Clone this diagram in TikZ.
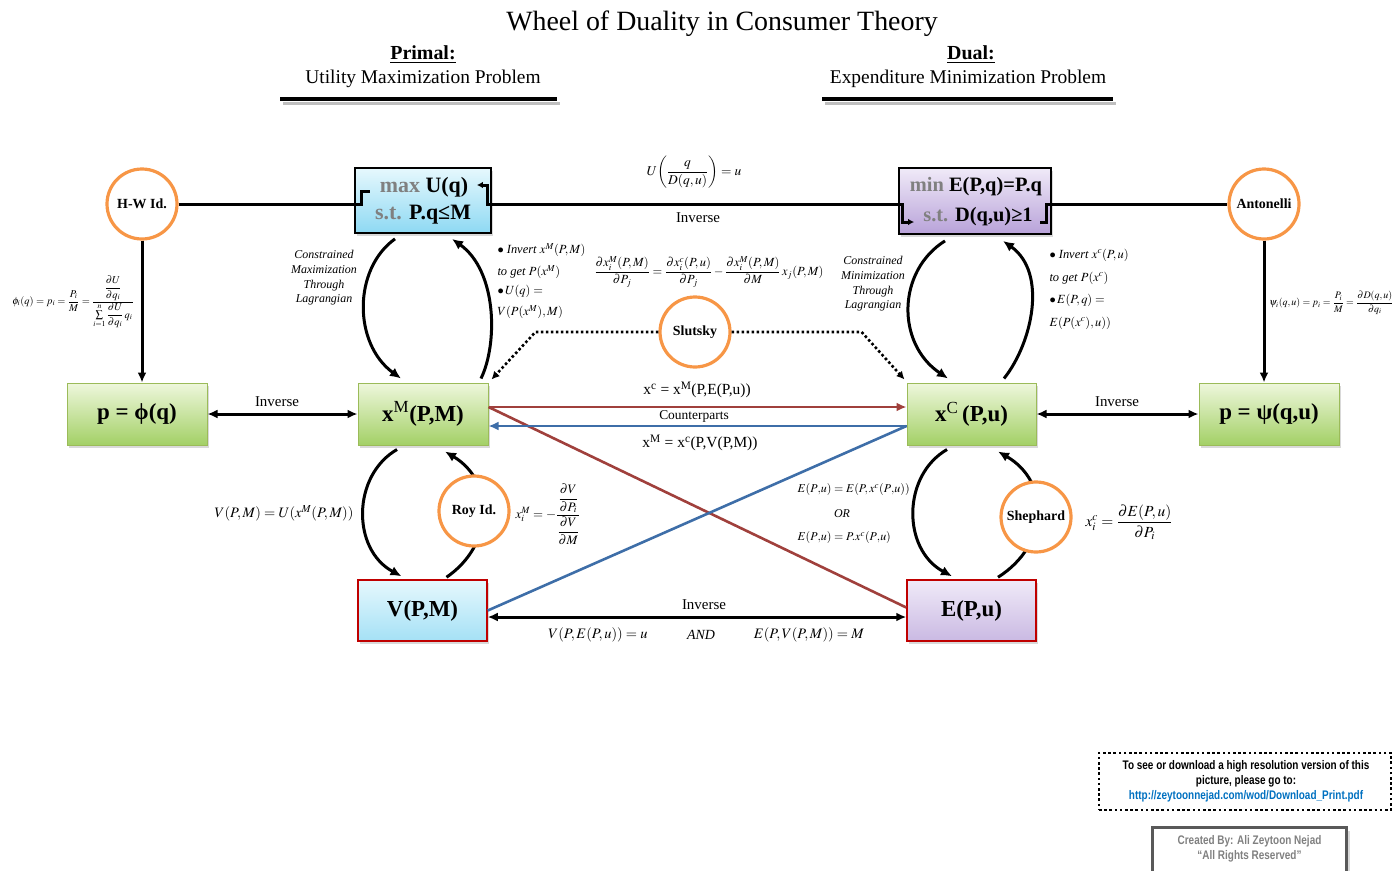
\documentclass[tikz,border=0pt]{standalone}
\usepackage{amsmath}
\usepackage{mathptmx}
\usepackage{fontspec}
\setmainfont{Liberation Serif}
\newfontfamily\condsans[FakeStretch=0.8]{Liberation Sans}
\usetikzlibrary{arrows.meta,shadows}

\definecolor{ring}{HTML}{F79646}
\definecolor{cyanTop}{HTML}{E6F8FD}
\definecolor{cyanBot}{HTML}{8ED9F3}
\definecolor{lavTop}{HTML}{F0EAF8}
\definecolor{lavBot}{HTML}{B8A2D9}
\definecolor{grnTop}{HTML}{EEF7DC}
\definecolor{grnBot}{HTML}{A3D066}
\definecolor{grnEdge}{HTML}{9BBB59}
\definecolor{boxRed}{HTML}{C00000}
\definecolor{linkRed}{HTML}{A0403C}
\definecolor{linkBlue}{HTML}{3E6EA8}
\definecolor{subGray}{HTML}{808080}
\definecolor{urlBlue}{HTML}{0070C0}
\definecolor{creditGray}{HTML}{595959}

\newcommand{\fs}[2]{\fontsize{#1}{#2}\selectfont}

\tikzset{
  hub/.style={circle, draw=ring, line width=3.2bp, fill=white, minimum size=70bp,
    inner sep=0pt, font=\bfseries\fs{14}{16}},
  panel/.style={rectangle, inner sep=0pt,
    drop shadow={opacity=0.3, shadow xshift=2bp, shadow yshift=-2.5bp}},
  optbox/.style={panel, draw=black, line width=1.8bp},
  funcbox/.style={panel, draw=grnEdge, line width=1bp, top color=grnTop,
    bottom color=grnBot, minimum width=130bp, minimum height=62bp,
    font=\bfseries\fs{23}{27}},
  valbox/.style={panel, draw=boxRed, line width=1.5bp, minimum width=129bp,
    minimum height=61bp, font=\bfseries\fs{23}{27}},
  wire/.style={line width=3bp, black},
  arrowend/.style={-{Latex[length=10bp,width=9bp]}},
  bothends/.style={{Latex[length=10bp,width=9bp]}-{Latex[length=10bp,width=9bp]}},
  smallend/.style={-{Latex[length=6bp,width=6.5bp]}},
  cycarc/.style={line width=3bp, -{Latex[length=11bp,width=10bp]}},
  dotwire/.style={line width=2.6bp, dash pattern=on 2.6bp off 2.4bp,
    -{Latex[length=8bp,width=8bp]}},
  redwire/.style={line width=2.6bp, linkRed},
  bluewire/.style={line width=2.6bp, linkBlue},
  lbl/.style={font=\fs{15}{17}},
  note/.style={font=\itshape\fs{12}{14.7}, align=center},
  mathlbl/.style={font=\fs{14.5}{16}},
  sidenote/.style={font=\fs{12.5}{14}, anchor=west},
}

\begin{document}
\begin{tikzpicture}[x=1bp, y=-1bp]
\useasboundingbox (0,0) rectangle (1398,870);

% ---------- headings ----------
\node[font=\fs{28}{31}] (title) at (722,24) {Wheel of Duality in Consumer Theory};
\node[font=\bfseries\fs{20}{24}] (primal) at (423,55) {\underline{Primal:}};
\node[font=\fs{19.5}{22}] (ump) at (423,79) {Utility Maximization Problem};
\node[font=\bfseries\fs{20}{24}] (dual) at (971,55) {\underline{Dual:}};
\node[font=\fs{19.5}{22}] (emp) at (968,79) {Expenditure Minimization Problem};
\draw[black!25, line width=3bp] (283,103) -- (560,103);
\draw[line width=3.5bp] (280,99) -- (557,99);
\draw[black!25, line width=3bp] (825,103) -- (1116,103);
\draw[line width=3.5bp] (822,99) -- (1113,99);

% ---------- optimisation problems ----------
\node[optbox, top color=cyanTop, bottom color=cyanBot,
      minimum width=136bp, minimum height=65bp] (umax) at (423,200.5) {};
\node[font=\bfseries\fs{22}{26}] (umaxA) at (424,187) {\textcolor{subGray}{max} U(q)};
\node[font=\bfseries\fs{22}{26}] (umaxB) at (423,215) {\textcolor{subGray}{s.t.} P.q≤M};

\node[optbox, top color=lavTop, bottom color=lavBot,
      minimum width=152bp, minimum height=66bp] (emin) at (975,201) {};
\node[font=\bfseries\fs{20.5}{24}] (eminA) at (976,187) {\textcolor{subGray}{min} E(P,q)=P.q};
\node[font=\bfseries\fs{20.5}{24}] (eminB) at (978,217) {\textcolor{subGray}{s.t.} D(q,u)≥1};

% ---------- identities ----------
\node[hub] (hw) at (142,204) {H-W Id.};
\node[hub] (anton) at (1264,204) {Antonelli};

% ---------- demand and value functions ----------
\node[funcbox, minimum width=140bp] (phi) at (137,414) {p = ϕ(q)};
\node[funcbox] (xm) at (423,414) {x\textsuperscript{\mdseries M}(P,M)};
\node[funcbox, minimum width=129bp] (xc) at (971.5,414) {x\textsuperscript{\mdseries C}\,(P,u)};
\node[funcbox, minimum width=140bp] (psi) at (1269,414) {p = ψ(q,u)};
\node[valbox, top color=cyanTop, bottom color=cyanBot!80] (vm) at (422.5,610.5) {V(P,M)};
\node[valbox, top color=lavTop, bottom color=lavBot!75] (em) at (971.5,610.5) {E(P,u)};

% ---------- top duality line ----------
\draw[wire] (hw.east) -- (hw.east -| umax.west) -- ++(7,0) |- ++(9,-13);
\draw[wire, smallend] (umax.east |- hw.east) -- ++(-4,0) |- ++(-11,-19);
\draw[wire] (umax.east |- hw.east) -- (emin.west |- hw.east);
\draw[wire, smallend] (emin.west |- hw.east) -- ++(4,0) |- ++(12,18);
\draw[wire] (emin.east |- hw.east) -- ++(-5,0) |- ++(-7,18);
\draw[wire] (emin.east |- hw.east) -- (anton.west);
\node[font=\fs{13.5}{15}] (dualid) at (694,172) {$U\!\left(\dfrac{q}{D(q,u)}\right)=u$};
\node[lbl] (invtop) at (698,218) {Inverse};

% ---------- inverse demand ----------
\draw[wire, arrowend] (hw.south) -- (hw.south |- phi.north);
\draw[wire, arrowend] (anton.south) -- (anton.south |- psi.north);
\node[font=\fs{10.5}{12}] (hwform) at (73,302)
  {$\phi_i(q)=p_i=\dfrac{P_i}{M}=\dfrac{\dfrac{\partial U}{\partial q_i}}{\sum\limits_{i=1}^{n}\dfrac{\partial U}{\partial q_i}\,q_i}$};
\node[font=\fs{10}{12}, anchor=east] (antform) at (1397,303)
  {$\psi_i(q,u)=p_i=\dfrac{P_i}{M}=\dfrac{\partial D(q,u)}{\partial q_i}$};

\draw[wire, bothends] (phi.east) -- (xm.west);
\node[lbl] (invl) at (277,402) {Inverse};
\draw[wire, bothends] (xc.east) -- (psi.west);
\node[lbl] (invr) at (1117,402) {Inverse};

% ---------- primal wheel ----------
\draw[cycarc] ([xshift=-28bp,yshift=-5bp]umax.south)
  .. controls +(-42,30) and +(-48,-35) .. ([xshift=-22bp,yshift=4bp]xm.north);
\draw[cycarc] ([xshift=58bp,yshift=4bp]xm.north)
  .. controls +(17,-35) and +(45,32) .. ([xshift=29bp,yshift=-5bp]umax.south);
\draw[cycarc] ([xshift=-26bp,yshift=-4bp]xm.south)
  .. controls +(-45,26) and +(-50,-27) .. ([xshift=-21bp,yshift=3bp]vm.north);
\draw[cycarc] ([xshift=24bp,yshift=2bp]vm.north)
  .. controls +(48,-33) and +(50,30) .. ([xshift=22bp,yshift=-6bp]xm.south);
\node[hub] (roy) at (474,511) {Roy Id.};

\node[note] (cmax) at (324,278) {Constrained\\Maximization\\Through\\Lagrangian};
\node[sidenote] (invA) at (494,250) {$\bullet$ \textit{Invert} $x^{M}(P,M)$};
\node[sidenote] (invB) at (494,272) {\textit{to get} $P(x^{M})$};
\node[sidenote] (invC) at (494,291) {$\bullet\, U(q)=$};
\node[sidenote] (invD) at (494,312) {$V(P(x^{M}),M)$};

\node[mathlbl] (vdef) at (284,513) {$V(P,M)=U(x^{M}(P,M))$};
\node[font=\fs{13}{15}] (royform) at (548,514) {$x_i^{M}=-\dfrac{\dfrac{\partial V}{\partial P_i}}{\dfrac{\partial V}{\partial M}}$};

% ---------- dual wheel ----------
\draw[cycarc] ([xshift=-30bp,yshift=-6bp]emin.south)
  .. controls +(-48,30) and +(-52,-35) .. ([xshift=-23.5bp,yshift=4bp]xc.north);
\draw[cycarc] ([xshift=32.5bp,yshift=4bp]xc.north)
  .. controls +(28,-35) and +(45,32) .. ([xshift=28bp,yshift=-6bp]emin.south);
\draw[cycarc] ([xshift=-24.5bp,yshift=-4bp]xc.south)
  .. controls +(-45,26) and +(-50,-27) .. ([xshift=-19.5bp,yshift=3bp]em.north);
\draw[cycarc] ([xshift=26.5bp,yshift=2bp]em.north)
  .. controls +(52,-33) and +(52,30) .. ([xshift=26.5bp,yshift=-6bp]xc.south);
\node[hub] (shep) at (1036,517) {Shephard};

\node[note] (cmin) at (873,284) {Constrained\\Minimization\\Through\\Lagrangian};
\node[sidenote] (hinvA) at (1046,255) {$\bullet$ \textit{Invert} $x^{c}(P,u)$};
\node[sidenote] (hinvB) at (1046,278) {\textit{to get} $P(x^{c})$};
\node[sidenote] (hinvC) at (1046,300) {$\bullet\, E(P,q)=$};
\node[sidenote] (hinvD) at (1046,323) {$E(P(x^{c}),u))$};

\node[font=\fs{12}{14}, anchor=west] (edefA) at (794,490) {$E(P{,}u)=E(P,x^{c}(P{,}u))$};
\node[font=\itshape\fs{12}{14}] (edefB) at (842,514) {OR};
\node[font=\fs{12}{14}, anchor=west] (edefC) at (794,538) {$E(P{,}u)=P.x^{c}(P{,}u)$};
\node[font=\fs{15.5}{17}] (shepform) at (1129,522) {$x_i^{c}=\dfrac{\partial E(P,u)}{\partial P_i}$};

% ---------- Slutsky ----------
\node[font=\fs{12.5}{14}] (slform) at (709,272)
  {$\dfrac{\partial x_i^{M}(P,M)}{\partial P_j}=\dfrac{\partial x_i^{c}(P,u)}{\partial P_j}-\dfrac{\partial x_i^{M}(P,M)}{\partial M}\,x_j(P,M)$};
\node[hub] (slutsky) at (695,332) {Slutsky};
\draw[dotwire] (slutsky.west) -- ++(-123,0) -- ([xshift=3bp,yshift=3bp]xm.north east);
\draw[dotwire] (slutsky.east) -- ++(130,0) -- ([xshift=-2bp,yshift=3bp]xc.north west);

% ---------- counterparts ----------
\draw[redwire, arrowend] ([yshift=7bp]xm.east) -- ([yshift=7bp]xc.west);
\draw[redwire] ([yshift=7bp]xm.east) -- ([yshift=3bp]em.west);
\draw[bluewire, arrowend] ([yshift=-12bp]xc.west) -- ([yshift=-12bp]xm.east);
\draw[bluewire] ([yshift=-12bp]xc.west) -- (vm.east);
\node[font=\fs{15.5}{17}] (cpA) at (697,390) {x\textsuperscript{c} = x\textsuperscript{M}(P,E(P,u))};
\node[font=\fs{13.5}{15}] (cpB) at (694,416) {Counterparts};
\node[font=\fs{15.5}{17}] (cpC) at (700,443) {x\textsuperscript{M} = x\textsuperscript{c}(P,V(P,M))};

% ---------- value / expenditure inverse ----------
\draw[wire, bothends] ([yshift=-6.5bp]vm.east) -- ([yshift=-6.5bp]em.west);
\node[lbl] (invb) at (704,605) {Inverse};
\node[mathlbl] (veq) at (598,635) {$V(P,E(P,u))=u$};
\node[font=\itshape\fs{14}{16}] (andw) at (701,635) {AND};
\node[mathlbl] (eeq) at (809,635) {$E(P,V(P,M))=M$};

% ---------- footer ----------
\node[draw, line width=2.6bp, dash pattern=on 2.6bp off 2.6bp,
      minimum width=292bp, minimum height=57bp] (dlbox) at (1245,781.5) {};
\node[font=\condsans\bfseries\fs{12.5}{15}, align=center] (dltext) at (1246,781)
  {To see or download a high resolution version of this\\picture, please go to:\\
   \textcolor{urlBlue}{http://zeytoonnejad.com/wod/Download\_Print.pdf}};
\node[draw=creditGray, line width=3bp, fill=white, minimum width=194bp,
      minimum height=64bp, anchor=north,
      drop shadow={opacity=0.3, shadow xshift=3bp, shadow yshift=-3bp}] (credit) at (1249.5,826) {};
\node[font=\condsans\bfseries\fs{12.5}{15}, text=subGray, align=center] (credittext) at (1249.5,849)
  {Created By: Ali Zeytoon Nejad\\“All Rights Reserved”};
\end{tikzpicture}
\end{document}
